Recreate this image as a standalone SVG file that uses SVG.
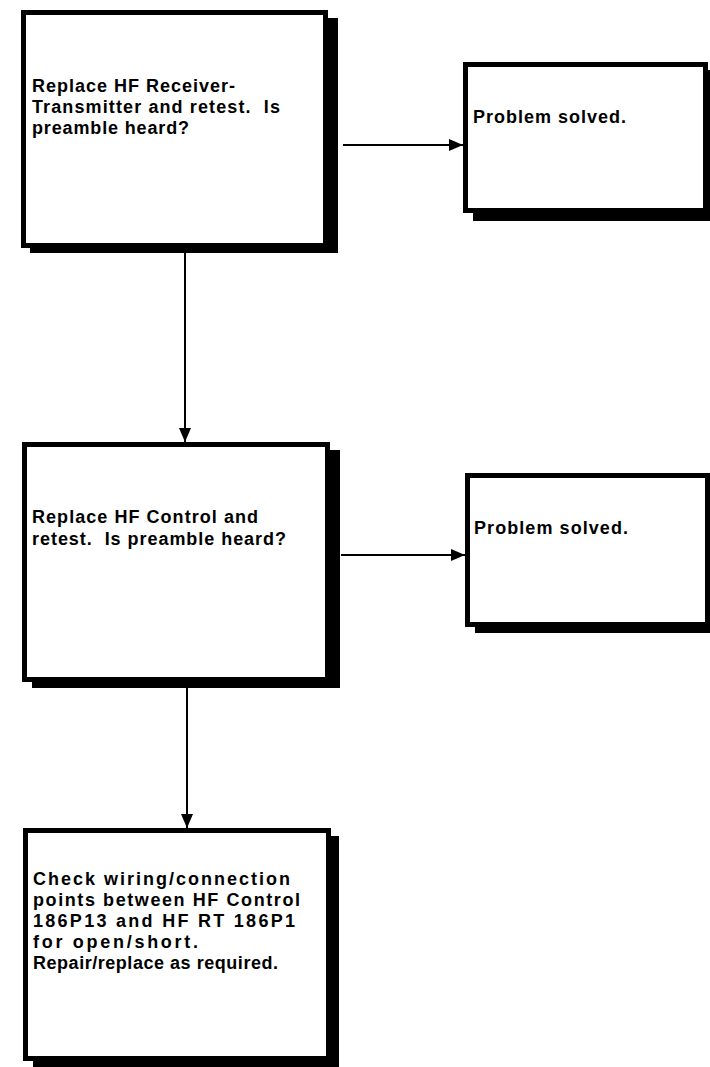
<svg xmlns="http://www.w3.org/2000/svg" width="710" height="1067" viewBox="0 0 710 1067">
<style>
.box{fill:#fff;stroke:#000;stroke-width:5}
.shadow{fill:#000}
.t{font-family:"Liberation Sans",Arial,sans-serif;font-weight:bold;font-size:18px;fill:#000}
.c{stroke:#000;stroke-width:2;fill:none}
</style>
<defs>
<marker id="ah" markerUnits="userSpaceOnUse" markerWidth="14" markerHeight="12" viewBox="0 0 14 12" refX="14" refY="6" orient="auto">
<path d="M0,0 L14,6 L0,12 z" fill="#000"/>
</marker>
</defs>
<rect width="710" height="1067" fill="#fff"/>
<g id="connectors">
<line class="c" x1="343" y1="145" x2="463" y2="145" marker-end="url(#ah)"/>
<line class="c" x1="185" y1="253" x2="185" y2="442" marker-end="url(#ah)"/>
<line class="c" x1="341" y1="555" x2="465" y2="555" marker-end="url(#ah)"/>
<line class="c" x1="187" y1="688" x2="187" y2="828" marker-end="url(#ah)"/>
</g>
<g id="box1">
<rect class="shadow" x="30" y="18" width="308" height="235"/>
<rect class="box" x="23.5" y="12.5" width="302" height="233"/>
<text class="t" x="32" y="92" textLength="203" lengthAdjust="spacing">Replace HF Receiver-</text>
<text class="t" x="32" y="113" textLength="248" lengthAdjust="spacing" xml:space="preserve">Transmitter and retest.  Is</text>
<text class="t" x="32" y="134" textLength="157" lengthAdjust="spacing">preamble heard?</text>
</g>
<g id="box2">
<rect class="shadow" x="473" y="70" width="245" height="151"/>
<rect class="box" x="465.5" y="64.5" width="240" height="146"/>
<text class="t" x="473" y="123" textLength="153" lengthAdjust="spacing">Problem solved.</text>
</g>
<g id="box3">
<rect class="shadow" x="32" y="450" width="308" height="238"/>
<rect class="box" x="24.5" y="444.5" width="303" height="235"/>
<text class="t" x="32" y="523" textLength="226" lengthAdjust="spacing">Replace HF Control and</text>
<text class="t" x="32" y="545" textLength="254" lengthAdjust="spacing" xml:space="preserve">retest.  Is preamble heard?</text>
</g>
<g id="box4">
<rect class="shadow" x="475" y="481" width="245" height="152"/>
<rect class="box" x="467.5" y="475.5" width="240" height="149"/>
<text class="t" x="474" y="534" textLength="154" lengthAdjust="spacing">Problem solved.</text>
</g>
<g id="box5">
<rect class="shadow" x="33" y="836" width="306" height="231"/>
<rect class="box" x="25.5" y="830.5" width="303" height="228"/>
<text class="t" x="33" y="885" textLength="257" lengthAdjust="spacing">Check wiring/connection</text>
<text class="t" x="33" y="906" textLength="267" lengthAdjust="spacing">points between HF Control</text>
<text class="t" x="33" y="927" textLength="262" lengthAdjust="spacing">186P13 and HF RT 186P1</text>
<text class="t" x="33" y="948" textLength="165" lengthAdjust="spacing">for open/short.</text>
<text class="t" x="33" y="969" textLength="245" lengthAdjust="spacing">Repair/replace as required.</text>
</g>
</svg>
